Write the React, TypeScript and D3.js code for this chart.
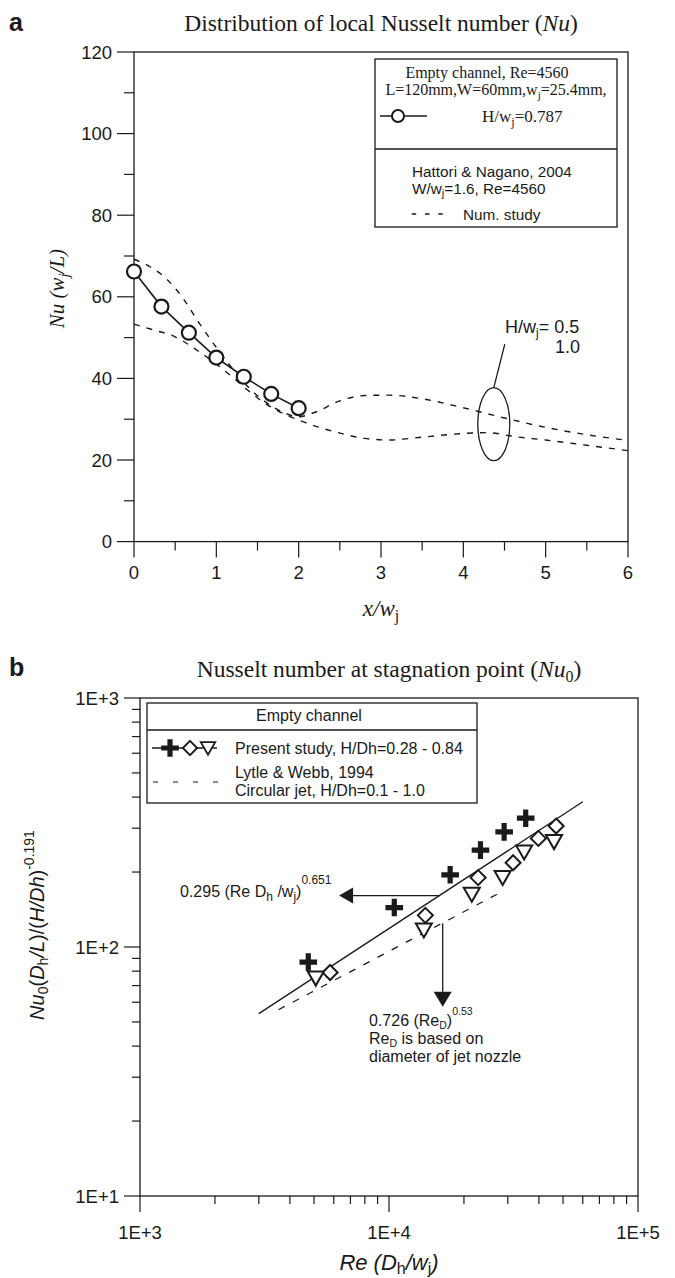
import React from 'react';
import * as d3 from 'd3';

const W = 675;
const H = 1278;
const SANS = '"Liberation Sans", Arial, sans-serif';
const SERIF = '"Liberation Serif", "Times New Roman", serif';
const INK = '#1a1a1a';

// ---------- Panel a data ----------
const expX = [0, 1 / 3, 2 / 3, 1, 4 / 3, 5 / 3, 2];
const expNu = [66.2, 57.6, 51.2, 45.1, 40.4, 36.2, 32.7];
const numHalfX = [0, 0.2, 0.4, 0.6, 0.8, 1.0, 1.2, 1.4, 1.6, 1.8, 2.0, 2.2, 2.5, 2.8, 3.1, 3.5, 4.0, 4.5, 5.0, 5.5, 6.0];
const numHalfNu = [69.2, 67.3, 64.3, 59.5, 53.3, 47.6, 42.3, 37.6, 34.2, 31.8, 30.6, 31.7, 34.5, 35.8, 35.9, 35.0, 32.8, 30.3, 28.0, 26.2, 24.8];
const numOneX = [0, 0.25, 0.5, 0.75, 1.0, 1.25, 1.5, 1.75, 2.0, 2.25, 2.5, 2.8, 3.1, 3.5, 4.0, 4.3, 4.6, 5.0, 5.5, 6.0];
const numOneNu = [53.3, 51.8, 50.2, 47.1, 43.5, 39.4, 35.2, 32.0, 29.8, 28.0, 26.6, 25.3, 24.9, 25.6, 26.5, 26.7, 25.8, 24.9, 23.6, 22.3];
const xTicksA = [0, 1, 2, 3, 4, 5, 6];
const xMinorA = [0.5, 1.5, 2.5, 3.5, 4.5, 5.5];
const yTicksA = [0, 20, 40, 60, 80, 100, 120];
const yMinorA = [10, 30, 50, 70, 90, 110];

// ---------- Panel b data ----------
const crossRe = [4740, 10500, 17600, 23300, 29000, 35400];
const crossNu = [87, 144, 195, 245, 290, 329];
const diamondRe = [5800, 14000, 22800, 31500, 39800, 46900];
const diamondNu = [79, 134, 190, 218, 273, 306];
const triRe = [5080, 13800, 21500, 28600, 34900, 46000];
const triNu = [75, 117, 163, 190, 241, 265];
const fitRe = [3000, 60000];
const fitNu = [54, 383];
const lytleRe = [3600, 27500];
const lytleNu = [56, 164];
const xTicksB = [1e3, 1e4, 1e5];
const xTickLabelsB = ['1E+3', '1E+4', '1E+5'];
const yTicksB = [10, 100, 1000];
const yTickLabelsB = ['1E+1', '1E+2', '1E+3'];

// ---------- scales ----------
const xa = d3.scaleLinear().domain([0, 6]).range([134, 628]);
const ya = d3.scaleLinear().domain([0, 120]).range([541.6, 52]);
const xb = d3.scaleLog().domain([1e3, 1e5]).range([140, 638]);
const yb = d3.scaleLog().domain([10, 1000]).range([1196, 698]);

const minorLog = (lo: number, hi: number) => {
  const out: number[] = [];
  for (let d = lo; d < hi; d *= 10) for (let k = 2; k <= 9; k++) out.push(d * k);
  return out;
};

const CROSS = 'M-8.8,-2.6H-2.6V-8.8H2.6V-2.6H8.8V2.6H2.6V8.8H-2.6V2.6H-8.8Z';
const DIAMOND = 'M0,-7.5L7.5,0L0,7.5L-7.5,0Z';
const TRI = 'M-8,-6.5L8,-6.5L0,7.5Z';

export default function App() {
  const lineA = d3.line<[number, number]>().x(d => xa(d[0])).y(d => ya(d[1]));
  const smoothA = d3.line<[number, number]>().x(d => xa(d[0])).y(d => ya(d[1])).curve(d3.curveMonotoneX);
  const lineB = d3.line<[number, number]>().x(d => xb(d[0])).y(d => yb(d[1]));

  const expPts = expX.map((x, i) => [x, expNu[i]] as [number, number]);
  const halfPts = numHalfX.map((x, i) => [x, numHalfNu[i]] as [number, number]);
  const onePts = numOneX.map((x, i) => [x, numOneNu[i]] as [number, number]);
  const fitPts = fitRe.map((x, i) => [x, fitNu[i]] as [number, number]);
  const lytPts = lytleRe.map((x, i) => [x, lytleNu[i]] as [number, number]);

  // annotation anchors (data coords)
  const ellX = 4.37, ellY = 28.8;
  const harrowRe = 16000;
  const harrowY = yb(0.295 * Math.pow(harrowRe, 0.651));
  const harrowTip = xb(6300);
  const varrowX = xb(16430);
  const varrowTop = yb(124.6);
  const varrowTip = yb(57.6);

  return (
    <svg width={W} height={H} viewBox={`0 0 ${W} ${H}`}
      style={{ position: 'absolute', left: 0, top: 0, background: '#fff' }}>
      <rect width={W} height={H} fill="#fff" />

      {/* ================= PANEL A ================= */}
      <text x={9} y={31} fontFamily={SANS} fontWeight="bold" fontSize={25} fill={INK}>a</text>
      <text x={381} y={31} fontFamily={SERIF} fontSize={23.5} textAnchor="middle" fill={INK}>
        Distribution of local Nusselt number (<tspan fontStyle="italic">Nu</tspan>)
      </text>

      {/* frame */}
      <rect x={xa(0)} y={ya(120)} width={xa(6) - xa(0)} height={ya(0) - ya(120)} fill="none" stroke={INK} strokeWidth={1.3} />

      {/* y ticks */}
      {yTicksA.map(v => (
        <g key={'ya' + v}>
          <line x1={xa(0) - 17} x2={xa(0)} y1={ya(v)} y2={ya(v)} stroke={INK} strokeWidth={1.2} />
          <text x={xa(0) - 22} y={ya(v) + 6.5} fontFamily={SANS} fontSize={18.5} textAnchor="end" fill={INK}>{v}</text>
        </g>
      ))}
      {yMinorA.map(v => (
        <line key={'yam' + v} x1={xa(0) - 10} x2={xa(0)} y1={ya(v)} y2={ya(v)} stroke={INK} strokeWidth={1.2} />
      ))}
      {/* x ticks */}
      {xTicksA.map(v => (
        <g key={'xa' + v}>
          <line x1={xa(v)} x2={xa(v)} y1={ya(0)} y2={ya(0) + 16} stroke={INK} strokeWidth={1.2} />
          <text x={xa(v)} y={ya(0) + 37} fontFamily={SANS} fontSize={18.5} textAnchor="middle" fill={INK}>{v}</text>
        </g>
      ))}
      {xMinorA.map(v => (
        <line key={'xam' + v} x1={xa(v)} x2={xa(v)} y1={ya(0)} y2={ya(0) + 9} stroke={INK} strokeWidth={1.2} />
      ))}

      {/* axis labels */}
      <text x={381} y={616} fontFamily={SERIF} fontSize={23} fontStyle="italic" textAnchor="middle" fill={INK}>
        x/w<tspan fontSize={16} dy={5} fontStyle="normal">j</tspan>
      </text>
      <text transform={`translate(64,${ya(62)}) rotate(-90)`} fontFamily={SERIF} fontSize={21} fontStyle="italic" textAnchor="middle" fill={INK}>
        Nu (w<tspan fontSize={15} dy={5}>j</tspan><tspan dy={-5}>/L)</tspan>
      </text>

      {/* numerical dashed curves */}
      <path d={smoothA(halfPts) || ''} fill="none" stroke={INK} strokeWidth={1.4} strokeDasharray="6,7" />
      <path d={smoothA(onePts) || ''} fill="none" stroke={INK} strokeWidth={1.4} strokeDasharray="6,7" />

      {/* experimental */}
      <path d={lineA(expPts) || ''} fill="none" stroke={INK} strokeWidth={1.6} />
      {expPts.map((p, i) => (
        <circle key={'c' + i} cx={xa(p[0])} cy={ya(p[1])} r={7} fill="#fff" stroke={INK} strokeWidth={2.2} />
      ))}

      {/* ellipse annotation */}
      <ellipse cx={xa(ellX)} cy={ya(ellY)} rx={16} ry={36.5} fill="none" stroke={INK} strokeWidth={1.3} />
      <line x1={xa(ellX)} y1={ya(ellY) - 36.5} x2={xa(ellX) + 11} y2={ya(ellY) - 80} stroke={INK} strokeWidth={1.3} />
      <text x={505} y={333} fontFamily={SANS} fontSize={18} fill={INK}>
        H/w<tspan fontSize={12} dy={4}>j</tspan><tspan dy={-4}>= 0.5</tspan>
      </text>
      <text x={580} y={353} fontFamily={SANS} fontSize={18} textAnchor="end" fill={INK}>1.0</text>

      {/* legend a */}
      <rect x={375} y={59} width={242} height={168} fill="#fff" stroke={INK} strokeWidth={1.3} />
      <line x1={375} x2={617} y1={149} y2={149} stroke={INK} strokeWidth={1.3} />
      <text x={487} y={78} fontFamily={SERIF} fontSize={16} textAnchor="middle" fill={INK}>Empty channel, Re=4560</text>
      <text x={496} y={95} fontFamily={SERIF} fontSize={16} textAnchor="middle" fill={INK}>
        L=120mm,W=60mm,w<tspan fontSize={11} dy={4}>j</tspan><tspan dy={-4}>=25.4mm,</tspan>
      </text>
      <line x1={380} x2={427} y1={116} y2={116} stroke={INK} strokeWidth={1.6} />
      <circle cx={398} cy={116} r={6} fill="#fff" stroke={INK} strokeWidth={2} />
      <text x={482} y={122} fontFamily={SERIF} fontSize={17} fill={INK}>
        H/w<tspan fontSize={12} dy={4}>j</tspan><tspan dy={-4}>=0.787</tspan>
      </text>
      <text x={412} y={177} fontFamily={SANS} fontSize={15.3} fill={INK}>Hattori &amp; Nagano, 2004</text>
      <text x={412} y={194} fontFamily={SANS} fontSize={15.3} fill={INK}>
        W/w<tspan fontSize={11} dy={3}>j</tspan><tspan dy={-3}>=1.6, Re=4560</tspan>
      </text>
      <line x1={411.7} x2={444} y1={214} y2={214} stroke={INK} strokeWidth={1.3} strokeDasharray="4.5,8.8" />
      <text x={463} y={219.5} fontFamily={SANS} fontSize={15.3} fill={INK}>Num. study</text>

      {/* ================= PANEL B ================= */}
      <text x={9} y={676} fontFamily={SANS} fontWeight="bold" fontSize={25} fill={INK}>b</text>
      <text x={389} y={677} fontFamily={SERIF} fontSize={23.5} textAnchor="middle" fill={INK}>
        Nusselt number at stagnation point (<tspan fontStyle="italic">Nu</tspan><tspan fontSize={16} dy={5}>0</tspan><tspan dy={-5}>)</tspan>
      </text>

      <rect x={xb(1e3)} y={yb(1000)} width={xb(1e5) - xb(1e3)} height={yb(10) - yb(1000)} fill="none" stroke={INK} strokeWidth={1.3} />

      {yTicksB.map((v, i) => (
        <g key={'yb' + v}>
          <line x1={xb(1e3) - 16} x2={xb(1e3)} y1={yb(v)} y2={yb(v)} stroke={INK} strokeWidth={1.2} />
          <text x={xb(1e3) - 21} y={yb(v) + 6.5} fontFamily={SANS} fontSize={18.5} textAnchor="end" fill={INK}>{yTickLabelsB[i]}</text>
        </g>
      ))}
      {minorLog(10, 1000).map(v => (
        <line key={'ybm' + v} x1={xb(1e3) - 8} x2={xb(1e3)} y1={yb(v)} y2={yb(v)} stroke={INK} strokeWidth={1.2} />
      ))}
      {xTicksB.map((v, i) => (
        <g key={'xb' + v}>
          <line x1={xb(v)} x2={xb(v)} y1={yb(10)} y2={yb(10) + 16} stroke={INK} strokeWidth={1.2} />
          <text x={xb(v)} y={yb(10) + 42.5} fontFamily={SANS} fontSize={18.5} textAnchor="middle" fill={INK}>{xTickLabelsB[i]}</text>
        </g>
      ))}
      {minorLog(1e3, 1e5).map(v => (
        <line key={'xbm' + v} x1={xb(v)} x2={xb(v)} y1={yb(10)} y2={yb(10) + 8} stroke={INK} strokeWidth={1.2} />
      ))}

      <text x={389} y={1270} fontFamily={SANS} fontSize={22} fontStyle="italic" textAnchor="middle" fill={INK}>
        Re (D<tspan fontSize={16} dy={4} fontStyle="normal">h</tspan><tspan dy={-4}>/w</tspan><tspan fontSize={16} dy={4} fontStyle="normal">j</tspan><tspan dy={-4}>)</tspan>
      </text>
      <text transform={`translate(44,925) rotate(-90)`} fontFamily={SANS} fontSize={20} textAnchor="middle" fill={INK}>
        <tspan fontStyle="italic">Nu</tspan><tspan fontSize={14} dy={4}>0</tspan><tspan dy={-4}>(</tspan><tspan fontStyle="italic">D</tspan><tspan fontSize={14} dy={4}>h</tspan><tspan dy={-4} fontStyle="italic">/L</tspan><tspan>)/(</tspan><tspan fontStyle="italic">H/Dh</tspan><tspan>)</tspan><tspan fontSize={14} dy={-10}>-0.191</tspan>
      </text>

      {/* lines */}
      <path d={lineB(fitPts) || ''} fill="none" stroke={INK} strokeWidth={1.3} />
      <path d={lineB(lytPts) || ''} fill="none" stroke={INK} strokeWidth={1.3} strokeDasharray="7,9" />

      {/* markers */}
      {crossRe.map((r, i) => (
        <path key={'cr' + i} d={CROSS} transform={`translate(${xb(r)},${yb(crossNu[i])})`} fill={INK} />
      ))}
      {diamondRe.map((r, i) => (
        <path key={'di' + i} d={DIAMOND} transform={`translate(${xb(r)},${yb(diamondNu[i])})`} fill="#fff" stroke={INK} strokeWidth={2} />
      ))}
      {triRe.map((r, i) => (
        <path key={'tr' + i} d={TRI} transform={`translate(${xb(r)},${yb(triNu[i])})`} fill="#fff" stroke={INK} strokeWidth={2} />
      ))}

      {/* horizontal arrow */}
      <line x1={xb(harrowRe)} x2={harrowTip + 14} y1={harrowY} y2={harrowY} stroke={INK} strokeWidth={1.3} />
      <path d={`M${harrowTip},${harrowY}L${harrowTip + 14},${harrowY - 8}L${harrowTip + 14},${harrowY + 8}Z`} fill={INK} />
      <text x={180} y={897} fontFamily={SANS} fontSize={16} fill={INK}>
        0.295 (Re D<tspan fontSize={12} dy={4}>h</tspan><tspan dy={-4}> /w</tspan><tspan fontSize={12} dy={4}>j</tspan><tspan dy={-4}>)</tspan><tspan fontSize={12} dy={-13}>0.651</tspan>
      </text>

      {/* vertical arrow */}
      <line x1={varrowX} x2={varrowX} y1={varrowTop} y2={varrowTip - 15} stroke={INK} strokeWidth={1.3} />
      <path d={`M${varrowX},${varrowTip}L${varrowX - 9},${varrowTip - 15}L${varrowX + 9},${varrowTip - 15}Z`} fill={INK} />
      <text x={369} y={1026} fontFamily={SANS} fontSize={16} fill={INK}>
        0.726 (Re<tspan fontSize={10.5} dy={2.5}>D</tspan><tspan dy={-2.5}>)</tspan><tspan fontSize={10.5} dy={-11}>0.53</tspan>
      </text>
      <text x={369} y={1044} fontFamily={SANS} fontSize={16} fill={INK}>
        Re<tspan fontSize={10.5} dy={2.5}>D</tspan><tspan dy={-2.5}> is based on</tspan>
      </text>
      <text x={369} y={1062} fontFamily={SANS} fontSize={16} fill={INK}>diameter of jet nozzle</text>

      {/* legend b */}
      <rect x={147} y={703} width={330} height={100} fill="#fff" stroke={INK} strokeWidth={1.3} />
      <line x1={147} x2={477} y1={730} y2={730} stroke={INK} strokeWidth={1.3} />
      <text x={309} y={721} fontFamily={SANS} fontSize={16} textAnchor="middle" fill={INK}>Empty channel</text>
      <line x1={152} x2={217} y1={748} y2={748} stroke={INK} strokeWidth={1.3} />
      <path d={CROSS} transform="translate(170,748)" fill={INK} />
      <path d={DIAMOND} transform="translate(190,748) scale(0.95)" fill="#fff" stroke={INK} strokeWidth={2} />
      <path d={TRI} transform="translate(208,748) scale(0.9)" fill="#fff" stroke={INK} strokeWidth={2} />
      <text x={235} y={754} fontFamily={SANS} fontSize={16} fill={INK}>Present study, H/Dh=0.28 - 0.84</text>
      <line x1={153} x2={220} y1={782} y2={782} stroke={INK} strokeWidth={1.2} strokeDasharray="5,15" />
      <text x={235} y={778} fontFamily={SANS} fontSize={16} fill={INK}>Lytle &amp; Webb, 1994</text>
      <text x={235} y={796} fontFamily={SANS} fontSize={16} fill={INK}>Circular jet, H/Dh=0.1 - 1.0</text>
    </svg>
  );
}
